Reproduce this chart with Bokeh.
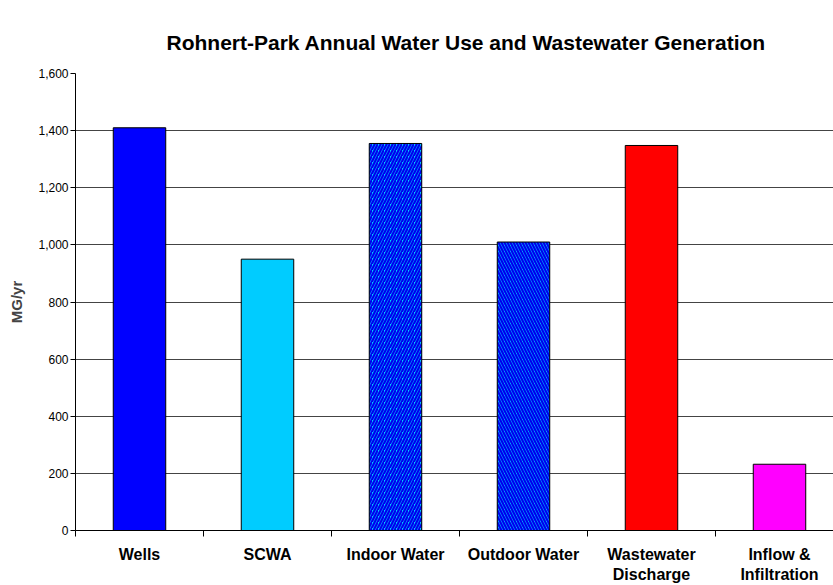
from bokeh.plotting import figure
from bokeh.models import ColumnDataSource, FixedTicker, NumeralTickFormatter, Range1d
from bokeh.embed import file_html
from bokeh.resources import INLINE

categories = ["Wells", "SCWA", "Indoor Water", "Outdoor Water", "Wastewater\nDischarge", "Inflow &\nInfiltration"]
values = [1410, 950, 1355, 1010, 1348, 232]
colors = ["#0000FF", "#00CCFF", "#00CCFF", "#00CCFF", "#FF0000", "#FF00FF"]
hatches = [" ", " ", "/", "\\", " ", " "]
y_ticks = [0, 200, 400, 600, 800, 1000, 1200, 1400, 1600]
title_text = "Rohnert-Park Annual Water Use and Wastewater Generation"

n = len(categories)
centers = [i + 0.5 for i in range(n)]
bounds = [float(i) for i in range(n + 1)]

src = ColumnDataSource(dict(x=centers, top=values, color=colors, hatch=hatches))

p = figure(width=833, height=585, output_backend="svg", toolbar_location=None,
           x_range=Range1d(0, (833 - 75) / 128.0), y_range=Range1d(0, 1600),
           min_border_left=75, min_border_right=0, min_border_top=73, min_border_bottom=53,
           title=title_text)
p.outline_line_color = None
p.background_fill_color = "white"
p.border_fill_color = "white"

p.title.align = "left"
p.title.offset = 91
p.title.standoff = 40
p.title.text_font = "Liberation Sans"
p.title.text_font_style = "bold"
p.title.text_font_size = "21px"
p.title.text_color = "black"

p.vbar(x="x", top="top", bottom=0, width=0.41, source=src, fill_color="color",
       line_color="black", line_width=1, hatch_pattern="hatch", hatch_color="#0000EE",
       hatch_scale=6, hatch_weight=2.2)

# y axis
p.yaxis.ticker = FixedTicker(ticks=y_ticks)
p.yaxis.formatter = NumeralTickFormatter(format="0,0")
p.yaxis.major_label_text_font = "Liberation Sans"
p.yaxis.major_label_text_font_size = "12px"
p.yaxis.major_label_text_color = "black"
p.yaxis.major_tick_out = 5
p.yaxis.major_tick_in = 0
p.yaxis.minor_tick_line_color = None
p.yaxis.major_label_standoff = 2
p.yaxis.axis_line_color = "black"
p.yaxis.major_tick_line_color = "black"
p.yaxis.axis_label = "MG/yr"
p.yaxis.axis_label_text_font = "Liberation Sans"
p.yaxis.axis_label_text_font_style = "bold"
p.yaxis.axis_label_text_font_size = "15px"
p.yaxis.axis_label_standoff = 10

# x axis
p.xaxis.ticker = FixedTicker(ticks=centers, minor_ticks=bounds)
p.xaxis.major_label_overrides = {c: lab for c, lab in zip(centers, categories)}
p.xaxis.major_tick_line_color = None
p.xaxis.major_tick_out = 0
p.xaxis.major_tick_in = 0
p.xaxis.minor_tick_out = 6
p.xaxis.minor_tick_in = 0
p.xaxis.minor_tick_line_color = "black"
p.xaxis.axis_line_color = "black"
p.xaxis.major_label_text_font = "Liberation Sans"
p.xaxis.major_label_text_font_style = "bold"
p.xaxis.major_label_text_font_size = "16px"
p.xaxis.major_label_text_color = "black"
p.xaxis.major_label_standoff = 9

p.xgrid.grid_line_color = None
p.ygrid.ticker = FixedTicker(ticks=y_ticks)
p.ygrid.grid_line_color = "#444444"
p.ygrid.grid_line_width = 1

open("out.html", "w").write(file_html(p, INLINE))
